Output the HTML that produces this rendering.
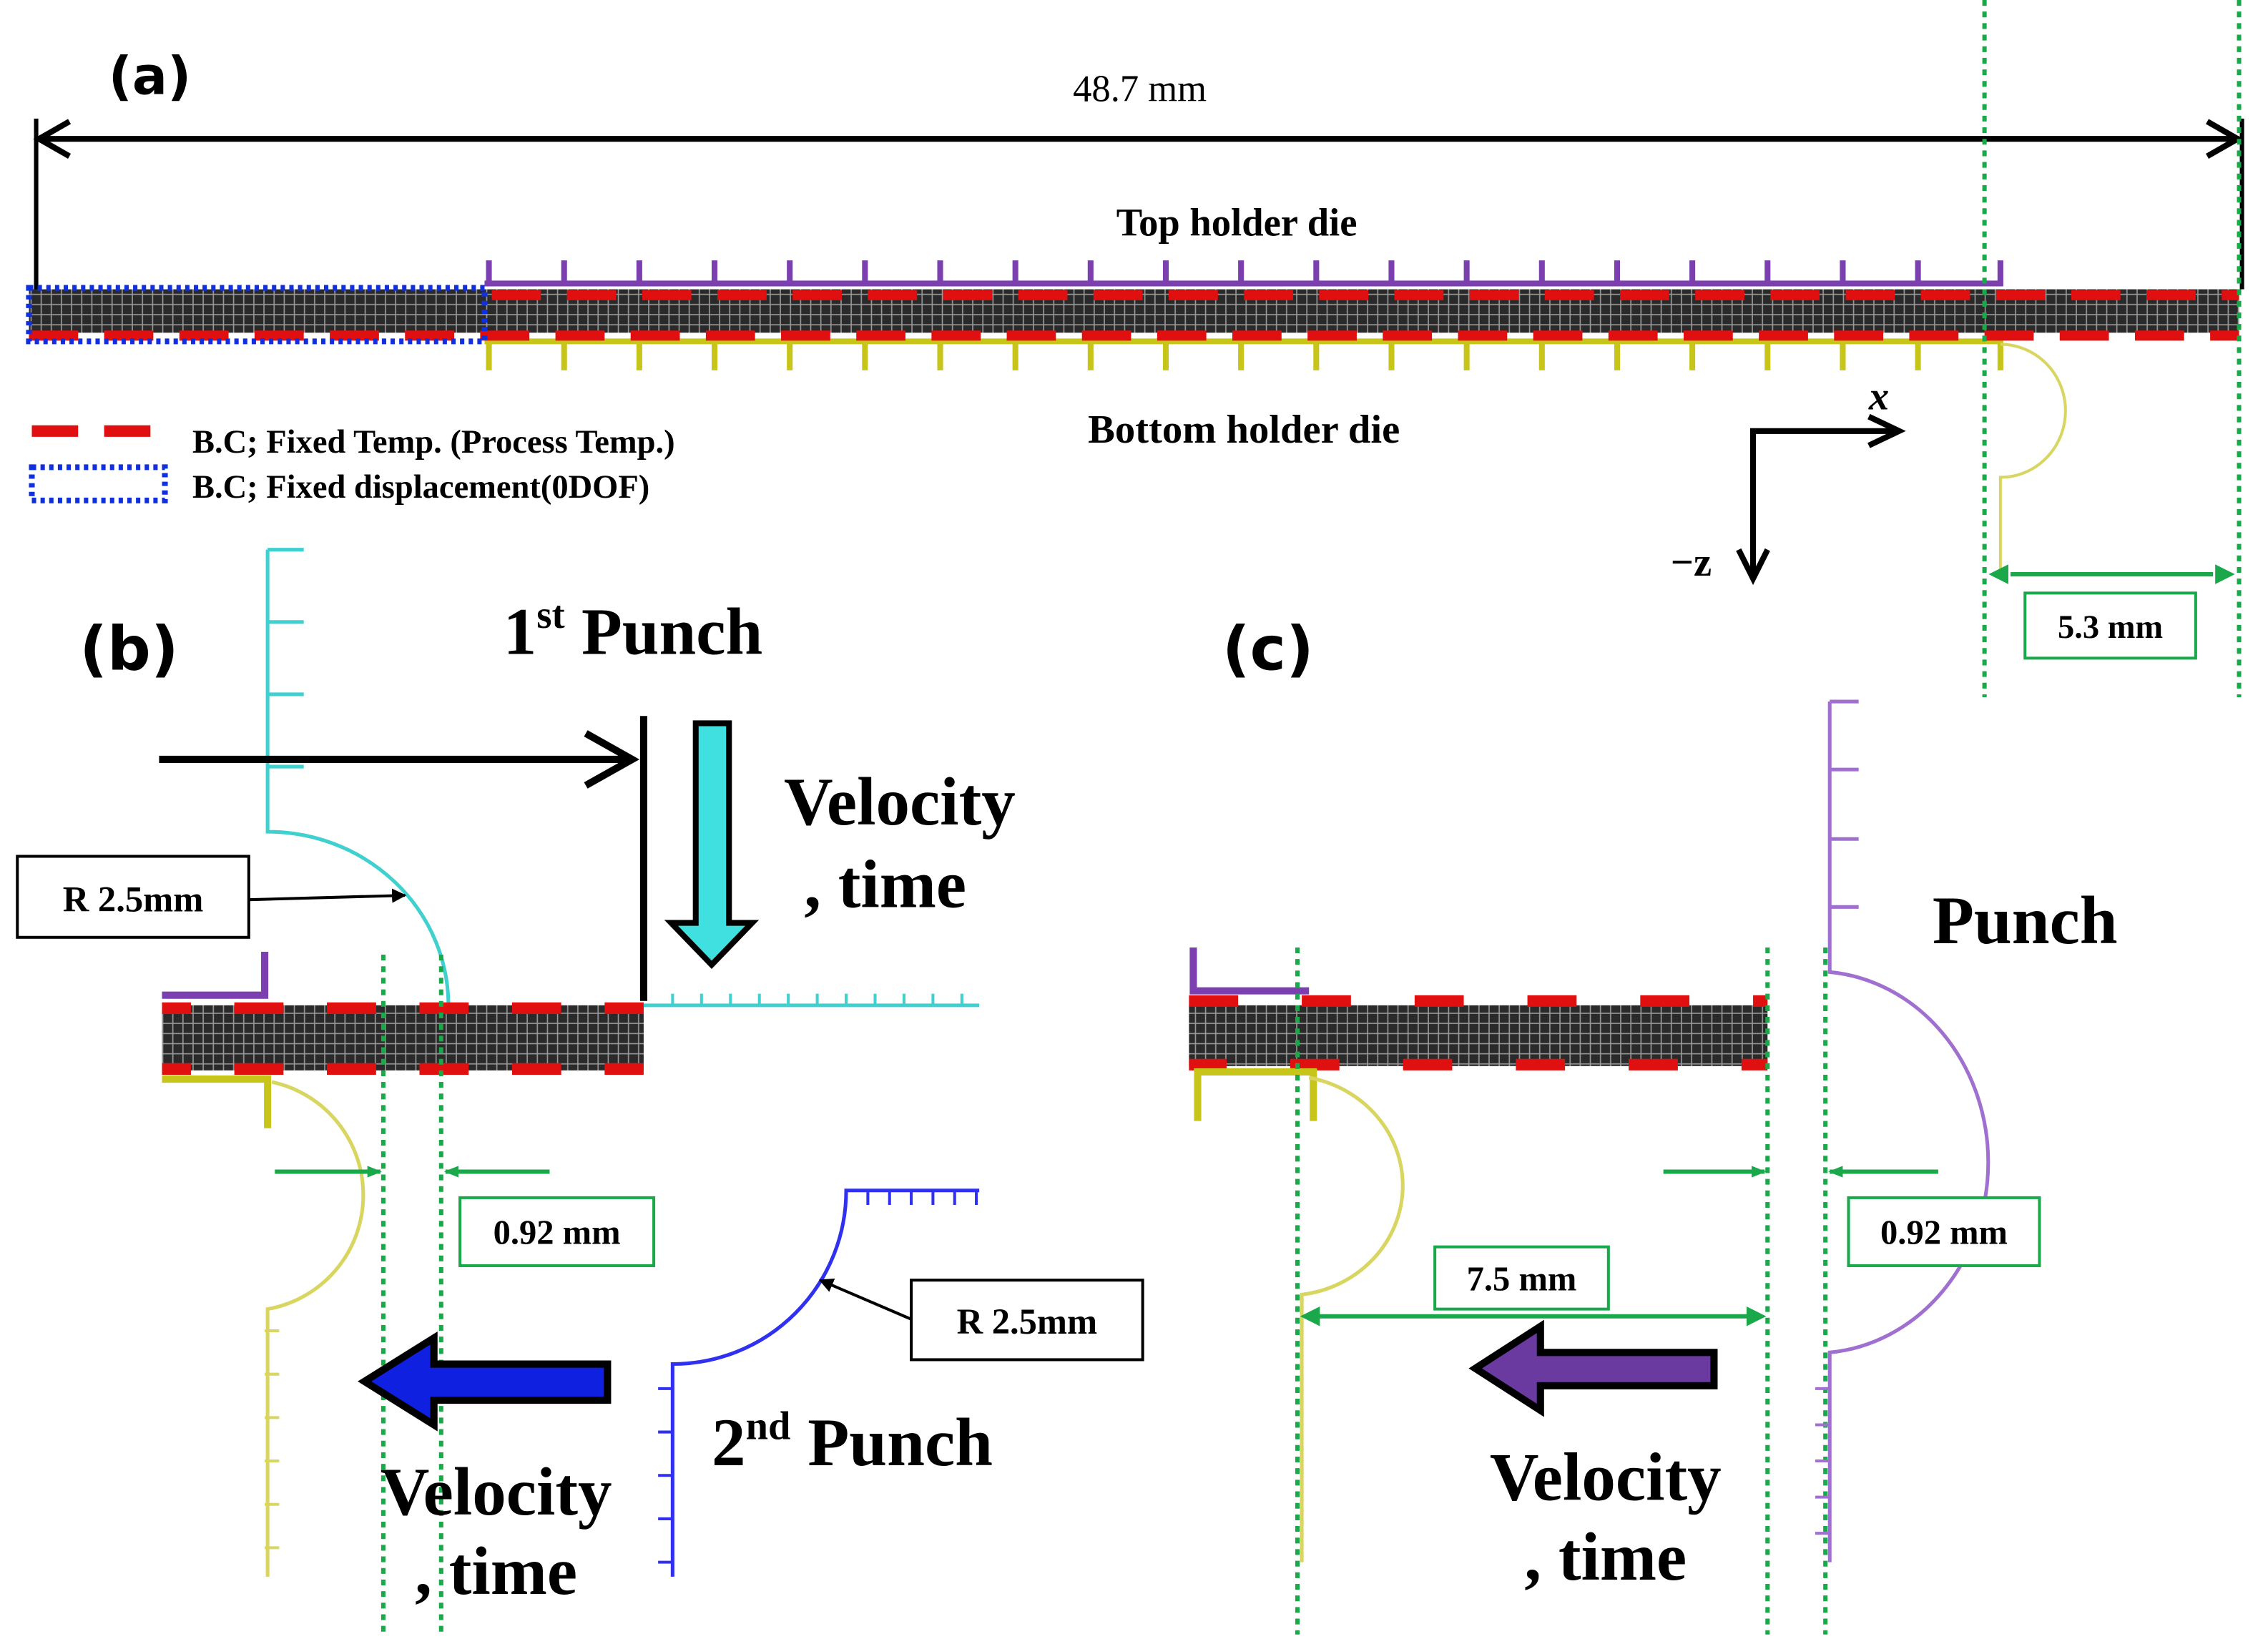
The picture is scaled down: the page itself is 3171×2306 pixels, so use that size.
<!DOCTYPE html>
<html><head><meta charset="utf-8"><style>
html,body{margin:0;padding:0;background:#fff;}
svg{display:block;}
.s{font-family:"DejaVu Sans","Liberation Sans",sans-serif;font-weight:bold;}
.r{font-family:"Liberation Serif",serif;font-weight:bold;}
</style></head><body>
<svg width="3171" height="2306" viewBox="0 0 1568 1140" preserveAspectRatio="none" xmlns="http://www.w3.org/2000/svg">
<defs>
<pattern id="mesh" width="7" height="7" patternUnits="userSpaceOnUse">
<rect width="7" height="7" fill="#2a2a2a"/>
<path d="M0 0.5H7M0.5 0V7" stroke="#9a9a9a" stroke-width="0.8"/>
</pattern>
<marker id="ah" markerWidth="10" markerHeight="10" refX="9" refY="5" orient="auto" markerUnits="userSpaceOnUse"><path d="M0,0 L10,5 L0,10 Z" fill="#000"/></marker>
<marker id="ga" markerWidth="10" markerHeight="10" refX="9" refY="5" orient="auto" markerUnits="userSpaceOnUse"><path d="M0,1 L10,5 L0,9 Z" fill="#1aa84a"/></marker>
</defs>
<rect width="1568" height="1140" fill="#fff"/>

<!-- (a) -->
<text x="75" y="65" class="s" font-size="36">(a)</text>
<text x="788" y="70" font-family="Liberation Serif,serif" font-size="26" text-anchor="middle">48.7 mm</text>
<line x1="25" y1="82" x2="25" y2="205" stroke="#000" stroke-width="3"/>
<line x1="1550" y1="82" x2="1550" y2="200" stroke="#000" stroke-width="3"/>
<path d="M27 96H1548" stroke="#000" stroke-width="4"/>
<path d="M48 84L27 96L48 108" fill="none" stroke="#000" stroke-width="4"/>
<path d="M1526 84L1547 96L1526 108" fill="none" stroke="#000" stroke-width="4"/>
<text x="855" y="163" class="r" font-size="27" text-anchor="middle">Top holder die</text>
<rect x="20" y="200" width="1528" height="30" fill="url(#mesh)"/>
<path d="M335 196H1385" stroke="#7b3fb0" stroke-width="4"/>
<g stroke="#7b3fb0" stroke-width="4">
<path d="M338 196V180M390 196V180M442 196V180M494 196V180M546 196V180M598 196V180M650 196V180M702 196V180M754 196V180M806 196V180M858 196V180M910 196V180M962 196V180M1014 196V180M1066 196V180M1118 196V180M1170 196V180M1222 196V180M1274 196V180M1326 196V180M1383 196V180"/></g>
<path d="M335 236H1385" stroke="#c8c51a" stroke-width="4"/>
<g stroke="#c8c51a" stroke-width="4">
<path d="M338 236V256M390 236V256M442 236V256M494 236V256M546 236V256M598 236V256M650 236V256M702 236V256M754 236V256M806 236V256M858 236V256M910 236V256M962 236V256M1014 236V256M1066 236V256M1118 236V256M1170 236V256M1222 236V256M1274 236V256M1326 236V256M1383 236V256"/></g>
<path d="M340 204H1548" stroke="#e01010" stroke-width="7" stroke-dasharray="34 18"/>
<path d="M20 232H1548" stroke="#e01010" stroke-width="7" stroke-dasharray="34 18"/>
<rect x="20" y="199" width="315" height="37" fill="none" stroke="#1030e0" stroke-width="4" stroke-dasharray="3 3"/>
<path d="M22 298H105" stroke="#e01010" stroke-width="8" stroke-dasharray="32 18"/>
<rect x="22" y="323" width="92" height="23" fill="none" stroke="#1030e0" stroke-width="4" stroke-dasharray="3 3"/>
<text x="133" y="313" class="r" font-size="23">B.C; Fixed Temp. (Process Temp.)</text>
<text x="133" y="344" class="r" font-size="23">B.C; Fixed displacement(0DOF)</text>
<text x="860" y="306" class="r" font-size="28" text-anchor="middle">Bottom holder die</text>
<path d="M1383 238 A45 46 0 0 1 1383 330 V395" fill="none" stroke="#d8d560" stroke-width="2"/>
<path d="M1212 400V298H1312" fill="none" stroke="#000" stroke-width="4"/>
<path d="M1292 288L1313 298L1292 308" fill="none" stroke="#000" stroke-width="4"/>
<path d="M1202 380L1212 400L1222 380" fill="none" stroke="#000" stroke-width="4"/>
<text x="1292" y="283" font-family="Liberation Serif,serif" font-style="italic" font-weight="bold" font-size="28">x</text>
<text x="1155" y="398" font-family="Liberation Serif,serif" font-weight="bold" font-size="28">−z</text>
<g stroke="#1aa84a" stroke-width="3" stroke-dasharray="4 4">
<path d="M1372 0V482M1548 0V482"/></g>
<path d="M1390 397H1530" stroke="#1aa84a" stroke-width="3"/>
<path d="M1388 391L1376 397L1388 403ZM1532 391L1544 397L1532 403Z" fill="#1aa84a" stroke="#1aa84a"/>
<rect x="1400" y="410" width="118" height="45" fill="#fff" stroke="#1aa84a" stroke-width="2"/>
<text x="1459" y="441" class="r" font-size="23" text-anchor="middle">5.3 mm</text>

<!-- (b) -->
<text x="55" y="463" class="s" font-size="42">(b)</text>
<path d="M185 380V575 A125 120 0 0 1 310 695" fill="none" stroke="#40d0d0" stroke-width="2.5"/>
<path d="M185 380H210M185 430H210M185 480H210M185 530H210" stroke="#40d0d0" stroke-width="2.5"/>
<path d="M445 695H677" stroke="#40d0d0" stroke-width="2.5"/>
<path d="M465 695V687M485 695V687M505 695V687M525 695V687M545 695V687M565 695V687M585 695V687M605 695V687M625 695V687M645 695V687M665 695V687" stroke="#40d0d0" stroke-width="2"/>
<text x="348" y="452" class="r" font-size="46">1<tspan font-size="27" dy="-18">st</tspan><tspan dy="18"> Punch</tspan></text>
<path d="M110 525H435" stroke="#000" stroke-width="5"/>
<path d="M405 507L437 525L405 543" fill="none" stroke="#000" stroke-width="5"/>
<path d="M445 495V692" stroke="#000" stroke-width="5"/>
<path d="M481 500H504V638H520L492 667L464 638H481Z" fill="#40e0e0" stroke="#000" stroke-width="4"/>
<text x="622" y="570" class="r" font-size="47" text-anchor="middle">Velocity</text>
<text x="612" y="627" class="r" font-size="47" text-anchor="middle">, time</text>
<rect x="12" y="592" width="160" height="56" fill="#fff" stroke="#000" stroke-width="2"/>
<text x="92" y="630" class="r" font-size="25" text-anchor="middle">R 2.5mm</text>
<line x1="172" y1="622" x2="280" y2="619" stroke="#000" stroke-width="2" marker-end="url(#ah)"/>
<rect x="112" y="695" width="333" height="45" fill="url(#mesh)"/>
<path d="M112 697H445" stroke="#e01010" stroke-width="8" stroke-dasharray="34 30" stroke-dashoffset="-50"/>
<path d="M112 739H445" stroke="#e01010" stroke-width="8" stroke-dasharray="34 30" stroke-dashoffset="-50"/>
<path d="M112 688H183V658" fill="none" stroke="#7b3fb0" stroke-width="5"/>
<path d="M112 746H185V780" fill="none" stroke="#c8c51a" stroke-width="5"/>
<path d="M188 748 A80 80 0 0 1 185 905 V1090" fill="none" stroke="#d8d560" stroke-width="2.5"/>
<path d="M183 920H193M183 950H193M183 980H193M183 1010H193M183 1040H193M183 1070H193" stroke="#d8d560" stroke-width="2"/>
<g stroke="#1aa84a" stroke-width="3" stroke-dasharray="4 4"><path d="M265 660V1130M305 660V1130"/></g>
<line x1="190" y1="810" x2="263" y2="810" stroke="#1aa84a" stroke-width="3" marker-end="url(#ga)"/>
<line x1="380" y1="810" x2="308" y2="810" stroke="#1aa84a" stroke-width="3" marker-end="url(#ga)"/>
<rect x="318" y="828" width="134" height="47" fill="#fff" stroke="#1aa84a" stroke-width="2"/>
<text x="385" y="860" class="r" font-size="24" text-anchor="middle">0.92 mm</text>
<path d="M677 823H585 A120 120 0 0 1 465 943 V1090" fill="none" stroke="#3030f0" stroke-width="2.5"/>
<path d="M600 823V833M615 823V833M630 823V833M645 823V833M660 823V833M675 823V833" stroke="#3030f0" stroke-width="2"/>
<path d="M465 960H455M465 990H455M465 1020H455M465 1050H455M465 1080H455" stroke="#3030f0" stroke-width="2"/>
<rect x="630" y="885" width="160" height="55" fill="#fff" stroke="#000" stroke-width="2"/>
<text x="710" y="922" class="r" font-size="25" text-anchor="middle">R 2.5mm</text>
<line x1="630" y1="912" x2="567" y2="885" stroke="#000" stroke-width="2" marker-end="url(#ah)"/>
<path d="M420 943V968H300V985L252 955L300 925V943Z" fill="#1020e0" stroke="#000" stroke-width="5"/>
<text x="343" y="1047" class="r" font-size="47" text-anchor="middle">Velocity</text>
<text x="343" y="1102" class="r" font-size="47" text-anchor="middle">, time</text>
<text x="492" y="1013" class="r" font-size="47">2<tspan font-size="28" dy="-18">nd</tspan><tspan dy="18"> Punch</tspan></text>

<!-- (c) -->
<text x="845" y="463" class="s" font-size="42">(c)</text>
<rect x="822" y="695" width="400" height="42" fill="url(#mesh)"/>
<path d="M822 692H1222" stroke="#e01010" stroke-width="8" stroke-dasharray="34 44" stroke-dashoffset="0"/>
<path d="M822 736H1222" stroke="#e01010" stroke-width="8" stroke-dasharray="34 44" stroke-dashoffset="-70"/>
<path d="M825 655V685H905" fill="none" stroke="#7b3fb0" stroke-width="5"/>
<path d="M828 775V741H908V775" fill="none" stroke="#c8c51a" stroke-width="5"/>
<path d="M905 745 A80 76 0 0 1 900 895 V1080" fill="none" stroke="#d8d560" stroke-width="2.5"/>
<g stroke="#1aa84a" stroke-width="3" stroke-dasharray="4 4"><path d="M897 655V1130M1222 655V1130M1262 655V1130"/></g>
<path d="M1265 485V672 A120 132 0 0 1 1265 935 V1080" fill="none" stroke="#a070d0" stroke-width="2.5"/>
<path d="M1265 485H1285M1265 532H1285M1265 580H1285M1265 627H1285" stroke="#a070d0" stroke-width="2.5"/>
<path d="M1265 960H1255M1265 985H1255M1265 1010H1255M1265 1035H1255M1265 1060H1255" stroke="#a070d0" stroke-width="2"/>
<text x="1400" y="652" class="r" font-size="47" text-anchor="middle">Punch</text>
<line x1="1150" y1="810" x2="1220" y2="810" stroke="#1aa84a" stroke-width="3" marker-end="url(#ga)"/>
<line x1="1340" y1="810" x2="1265" y2="810" stroke="#1aa84a" stroke-width="3" marker-end="url(#ga)"/>
<rect x="1278" y="828" width="132" height="47" fill="#fff" stroke="#1aa84a" stroke-width="2"/>
<text x="1344" y="860" class="r" font-size="24" text-anchor="middle">0.92 mm</text>
<rect x="992" y="862" width="120" height="43" fill="#fff" stroke="#1aa84a" stroke-width="2"/>
<text x="1052" y="892" class="r" font-size="24" text-anchor="middle">7.5 mm</text>
<path d="M912 910H1208" stroke="#1aa84a" stroke-width="3"/>
<path d="M912 904L900 910L912 916ZM1208 904L1220 910L1208 916Z" fill="#1aa84a" stroke="#1aa84a"/>
<path d="M1185 935V958H1065V975L1020 946L1065 917V935Z" fill="#6a3aa0" stroke="#000" stroke-width="5"/>
<text x="1110" y="1037" class="r" font-size="47" text-anchor="middle">Velocity</text>
<text x="1110" y="1092" class="r" font-size="47" text-anchor="middle">, time</text>
</svg>
</body></html>
